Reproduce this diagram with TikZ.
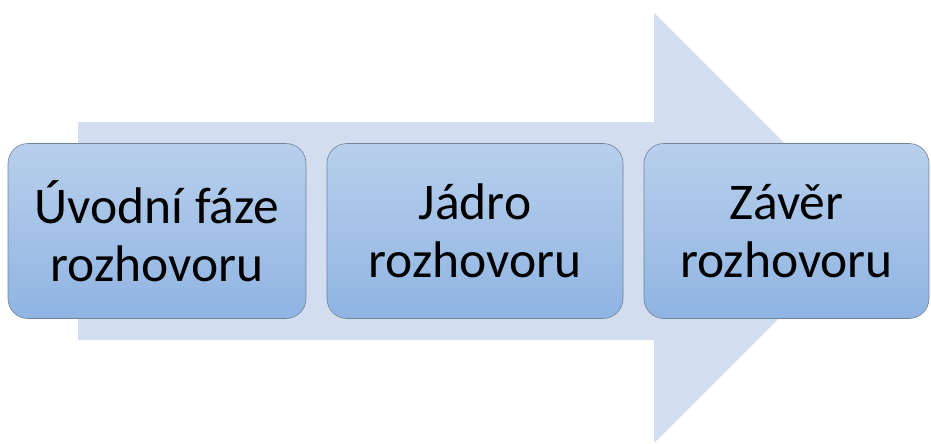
\documentclass[tikz,border=0pt]{standalone}
\usepackage{fontspec}
\setmainfont{Carlito}
\usepackage{tikz}
\tikzset{>=latex}
\definecolor{arrowfill}{HTML}{D2DDEF}
\definecolor{boxtop}{HTML}{B8CFEC}
\definecolor{boxbottom}{HTML}{8FB4E2}
\definecolor{boxline}{HTML}{6F839A}
\tikzset{phasebox/.style={draw=boxline,line width=0.6pt,rounded corners=20pt,
  top color=boxtop,bottom color=boxbottom,minimum width=298pt,minimum height=175pt,
  align=center,text=black,font=\fontsize{51.5}{58}\selectfont,inner sep=0pt}}

\begin{document}
\begin{tikzpicture}[line cap=round,line join=round,x=1pt,y=-1pt]
			\useasboundingbox (0,0) rectangle (931,444);
			\fill[color=arrowfill] (78,122) -- (654,122) -- (654,13) -- (869,228) -- (654,443) -- (654,340) -- (78,340) -- cycle;
			\node[phasebox] (uvod) at (157,231) {Úvodní fáze\\rozhovoru};
			\node[phasebox,minimum width=296pt] (jadro) at (475,231) {Jádro\\rozhovoru};
			\node[phasebox,minimum width=285pt] (zaver) at (786.5,231) {Závěr\\rozhovoru};
			\end{tikzpicture}
\end{document}
